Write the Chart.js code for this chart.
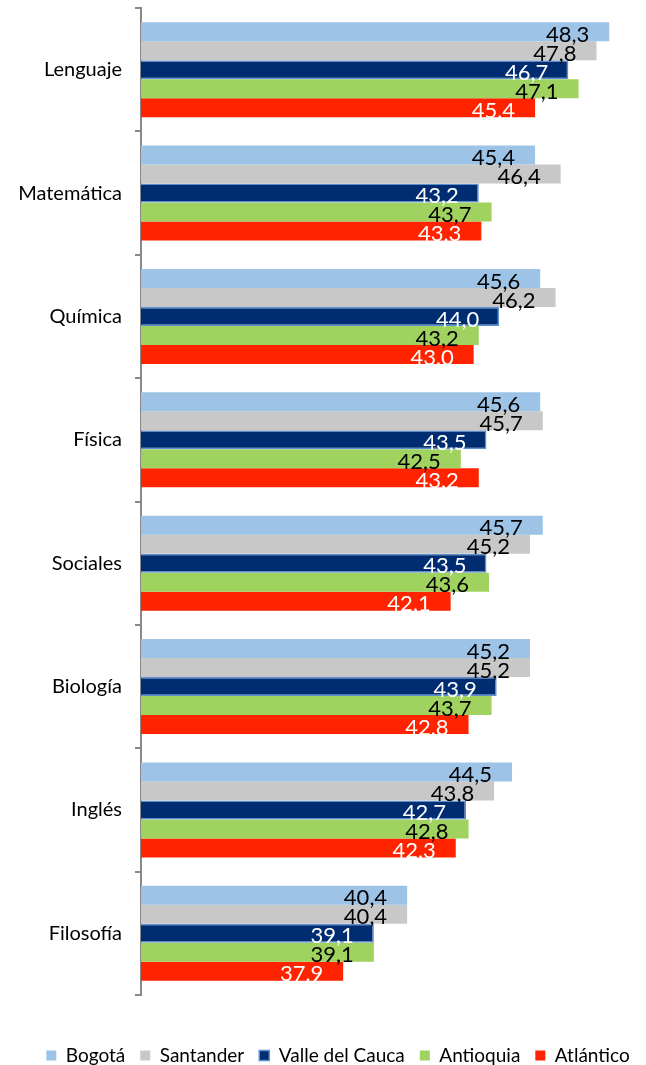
<!DOCTYPE html>
<html>
<head>
<meta charset="utf-8">
<script src="https://cdn.jsdelivr.net/npm/chart.js@4/dist/chart.umd.min.js"></script>
<style>
  body { margin: 0; background: #fff; }
  canvas { display: block; }
</style>
</head>
<body>
<canvas id="grafico" width="646" height="1065"></canvas>
<script>
var materias = ['Lenguaje', 'Matemática', 'Química', 'Física', 'Sociales', 'Biología', 'Inglés', 'Filosofía'];
var regiones = ['Bogotá', 'Santander', 'Valle del Cauca', 'Antioquia', 'Atlántico'];
var bogota = [48.3, 45.4, 45.6, 45.6, 45.7, 45.2, 44.5, 40.4];
var santander = [47.8, 46.4, 46.2, 45.7, 45.2, 45.2, 43.8, 40.4];
var valle = [46.7, 43.2, 44.0, 43.5, 43.5, 43.9, 42.7, 39.1];
var antioquia = [47.1, 43.7, 43.2, 42.5, 43.6, 43.7, 42.8, 39.1];
var atlantico = [45.4, 43.3, 43.0, 43.2, 42.1, 42.8, 42.3, 37.9];

var colori = ['#9DC3E6', '#C8C8C8', '#002D72', '#A0D25F', '#FF2300'];
var bordi = ['#9DC3E6', '#C8C8C8', '#5B8FD0', '#A0D25F', '#FF2300'];
var coloriTesto = ['#000', '#000', '#fff', '#000', '#fff'];
var serie = [bogota, santander, valle, antioquia, atlantico];

var datasets = [];
for (var i = 0; i < serie.length; i++) {
  datasets.push({
    label: regiones[i],
    data: serie[i],
    backgroundColor: colori[i],
    borderColor: bordi[i],
    borderWidth: i == 2 ? 1.5 : 0,
    barPercentage: 1,
    categoryPercentage: 0.77
  });
}

// etichette dei valori dentro le barre
var etichette = {
  id: 'etichette',
  afterLayout: function(chart) {
    // sposta un po' la legenda a destra come nell'originale
    chart.legend.left += 18;
    chart.legend.right += 18;
  },
  afterDatasetsDraw: function(chart) {
    var ctx = chart.ctx;
    ctx.save();
    ctx.font = '22px Lato';
    ctx.textAlign = 'right';
    ctx.textBaseline = 'middle';
    chart.data.datasets.forEach(function(ds, i) {
      var meta = chart.getDatasetMeta(i);
      meta.data.forEach(function(bar, j) {
        var testo = ds.data[j].toFixed(1).replace('.', ',');
        ctx.fillStyle = coloriTesto[i];
        ctx.fillText(testo, bar.x - 20, bar.y + 3);
      });
    });
    ctx.restore();
  }
};

var myChart = new Chart(document.getElementById('grafico'), {
  type: 'bar',
  data: {
    labels: materias,
    datasets: datasets
  },
  options: {
    indexAxis: 'y',
    responsive: false,
    animation: false,
    devicePixelRatio: 1,
    layout: { padding: { top: 8, right: 6, left: 0, bottom: -10 } },
    scales: {
      x: {
        min: 30,
        max: 49.5,
        ticks: { display: false },
        grid: { display: false },
        border: { display: false },
        afterFit: function(s) { s.height = 36; s.paddingLeft = 0; s.paddingRight = 0; }
      },
      y: {
        ticks: { color: '#000', font: { family: 'Lato', size: 20 }, padding: 13 },
        grid: { drawOnChartArea: false, tickLength: 6, color: '#888', lineWidth: 2 },
        border: { color: '#888', width: 2 },
        afterFit: function(s) { s.width = 141; s.paddingTop = 0; s.paddingBottom = 0; }
      }
    },
    plugins: {
      legend: {
        position: 'bottom',
        labels: {
          color: '#000',
          font: { family: 'Lato', size: 19 },
          boxWidth: 10,
          boxHeight: 10,
          padding: 15
        }
      },
      tooltip: { enabled: false }
    }
  },
  plugins: [etichette]
});
</script>
</body>
</html>
